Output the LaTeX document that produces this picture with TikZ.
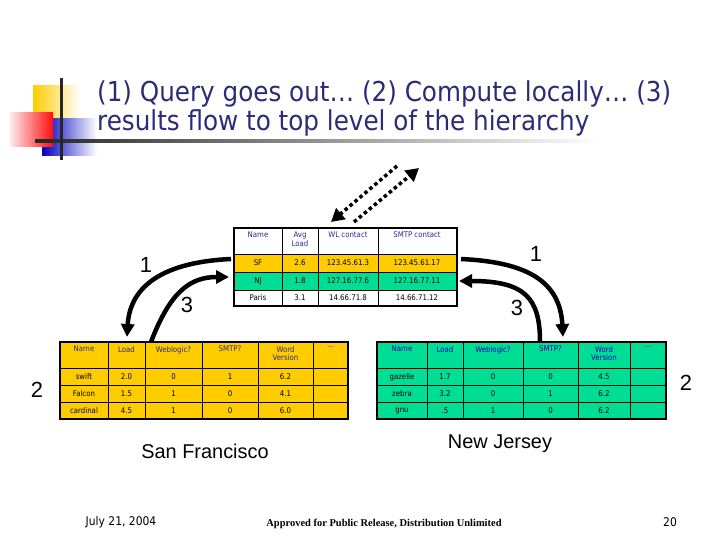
\documentclass[tikz,border=0pt]{standalone}
\usepackage{fontspec}
\setmainfont{DejaVu Sans}
\newfontfamily\slidefont{DejaVu Sans Condensed}
\newfontfamily\numfont{Liberation Sans}
\newfontfamily\notefont{Liberation Serif}
\usetikzlibrary{arrows.meta}

\definecolor{titleblue}{RGB}{43,43,122}
\definecolor{hdrblue}{RGB}{40,40,150}
\definecolor{sfyellow}{RGB}{255,204,0}
\definecolor{njgreen}{RGB}{0,222,150}

\tikzset{
  cell/.style={font=\slidefont\fontsize{7.8}{8.5}\selectfont, align=center, inner sep=0pt},
  hdr/.style={cell, anchor=north},
  grid/.style={line width=0.8bp},
  frame/.style={line width=1.6bp},
  flow/.style={line width=4.5bp, -{Triangle[length=13bp,width=13bp]}},
  dotflow/.style={line width=3.5bp, dash pattern=on 3.5bp off 3bp, -{Triangle[length=13bp,width=14bp]}},
  lvl/.style={font=\numfont\fontsize{22}{22}\selectfont, inner sep=0pt},
  place/.style={font=\numfont\fontsize{20}{20}\selectfont, inner sep=0pt}
}

\begin{document}
\begin{tikzpicture}[x=1bp,y=-1bp]
\useasboundingbox (0,0) rectangle (720,540);

% Corner mark
\shade[left color=sfyellow, middle color=sfyellow, right color=white] (33,86) rectangle (80,120);
\shade[left color=blue!75!black, middle color=blue!75!black, right color=white] (42,119) rectangle (97,156);
\shade[left color=red!8, right color=red!95] (10,113) rectangle (53,147);
\shade[left color=black!85, middle color=black!60, right color=white] (35,140) rectangle (600,142.5);
\fill[black!85] (60,78) rectangle (62.5,160);

% Title
\node[anchor=base west, align=left, text=titleblue, inner sep=0pt,
      font=\slidefont\fontsize{27.5}{30}\selectfont] (title) at (97,131)
  {(1) Query goes out… (2) Compute locally… (3)\\results flow to top level of the hierarchy};

% Top level table
\fill[sfyellow] (234,254) rectangle (457,272);
\fill[njgreen] (234,272) rectangle (457,290);
\foreach \x in {282,318,378} \draw[grid] (\x,228) -- (\x,306);
\foreach \y in {254,272,290} \draw[grid] (234,\y) -- (457,\y);
\draw[frame] (234,228) rectangle (457,306);
\foreach \cx/\t [count=\c] in {258/Name,300/{Avg\\Load},348/WL contact,417/SMTP contact}
  \node[hdr, text=hdrblue] (top-h\c) at (\cx,232) {\t};
\foreach \cx/\t [count=\c] in {258/SF,300/2.6,348/123.45.61.3,417/123.45.61.17}
  \node[cell] (top-a\c) at (\cx,263) {\t};
\foreach \cx/\t [count=\c] in {258/NJ,300/1.8,348/127.16.77.6,417/127.16.77.11}
  \node[cell] (top-b\c) at (\cx,281) {\t};
\foreach \cx/\t [count=\c] in {258/Paris,300/3.1,348/14.66.71.8,417/14.66.71.12}
  \node[cell] (top-c\c) at (\cx,298) {\t};

% San Francisco table
\fill[sfyellow] (60,342) rectangle (348,419);
\foreach \x in {108,145,202,258,313} \draw[grid] (\x,342) -- (\x,419);
\foreach \y in {368,385,402} \draw[grid] (60,\y) -- (348,\y);
\draw[frame] (60,342) rectangle (348,419);
\foreach \cx/\t [count=\c] in {84/Name,126.5/Load,173.5/Weblogic?,230/SMTP?,285.5/{Word\\Version},330.5/…}
  \node[hdr, text=titleblue] (sf-h\c) at (\cx,346) {\t};
\foreach \cx/\t [count=\c] in {84/swift,126.5/2.0,173.5/0,230/1,285.5/6.2}
  \node[cell] (sf-a\c) at (\cx,377) {\t};
\foreach \cx/\t [count=\c] in {84/Falcon,126.5/1.5,173.5/1,230/0,285.5/4.1}
  \node[cell] (sf-b\c) at (\cx,394) {\t};
\foreach \cx/\t [count=\c] in {84/cardinal,126.5/4.5,173.5/1,230/0,285.5/6.0}
  \node[cell] (sf-c\c) at (\cx,411) {\t};

% New Jersey table
\fill[njgreen] (377,342) rectangle (666,419);
\foreach \x in {427,463,523,578,630} \draw[grid] (\x,342) -- (\x,419);
\foreach \y in {368,385,402} \draw[grid] (377,\y) -- (666,\y);
\draw[frame] (377,342) rectangle (666,419);
\foreach \cx/\t [count=\c] in {402/Name,445/Load,493/Weblogic?,550.5/SMTP?,604/{Word\\Version},648/…}
  \node[hdr, text=blue!70!black] (nj-h\c) at (\cx,346) {\t};
\foreach \cx/\t [count=\c] in {402/gazelle,445/1.7,493/0,550.5/0,604/4.5}
  \node[cell] (nj-a\c) at (\cx,377) {\t};
\foreach \cx/\t [count=\c] in {402/zebra,445/3.2,493/0,550.5/1,604/6.2}
  \node[cell] (nj-b\c) at (\cx,394) {\t};
\foreach \cx/\t [count=\c] in {402/gnu,445/.5,493/1,550.5/0,604/6.2}
  \node[cell] (nj-c\c) at (\cx,411) {\t};

% Arrow ends
\coordinate (top-sf-w) at (231,259);
\coordinate (top-nj-w) at (229,277);
\coordinate (top-sf-e) at (461,259);
\coordinate (top-nj-e) at (459,281);
\coordinate (sf-in) at (127,337);
\coordinate (sf-out) at (151,342);
\coordinate (nj-in) at (563,337);
\coordinate (nj-out) at (540,342);
\coordinate (up-a) at (397,166);
\coordinate (up-b) at (354,222);
\coordinate (up-c) at (331,222);
\coordinate (up-d) at (419,168);

% Query goes down, results come up
\draw[flow] (top-sf-w) .. controls (165,262) and (130,285) .. (sf-in);
\draw[flow] (sf-out) .. controls (170,292) and (190,277) .. (top-nj-w);
\draw[flow] (top-sf-e) .. controls (525,262) and (560,280) .. (nj-in);
\draw[flow] (nj-out) .. controls (540,298) and (525,281) .. (top-nj-e);

% Link to the level above
\draw[dotflow] (up-a) -- (up-c);
\draw[dotflow] (up-b) -- (up-d);

% Step numbers
\node[lvl] (one-l) at (146,265) {1};
\node[lvl] (one-r) at (536,254) {1};
\node[lvl] (three-l) at (187,305) {3};
\node[lvl] (three-r) at (517,308) {3};
\node[lvl] (two-l) at (37,390) {2};
\node[lvl] (two-r) at (686,383) {2};

% Places
\node[place] (sf-name) at (205,451) {San Francisco};
\node[place] (nj-name) at (500,444) {New Jersey};

% Footer
\node[font=\slidefont\fontsize{12}{12}\selectfont, inner sep=0pt] (date) at (121,522) {July 21, 2004};
\node[font=\notefont\bfseries\fontsize{10.5}{10.5}\selectfont, inner sep=0pt] (release) at (384,524) {Approved for Public Release, Distribution Unlimited};
\node[font=\slidefont\fontsize{12}{12}\selectfont, inner sep=0pt] (page) at (670,522) {20};
\end{tikzpicture}
\end{document}
